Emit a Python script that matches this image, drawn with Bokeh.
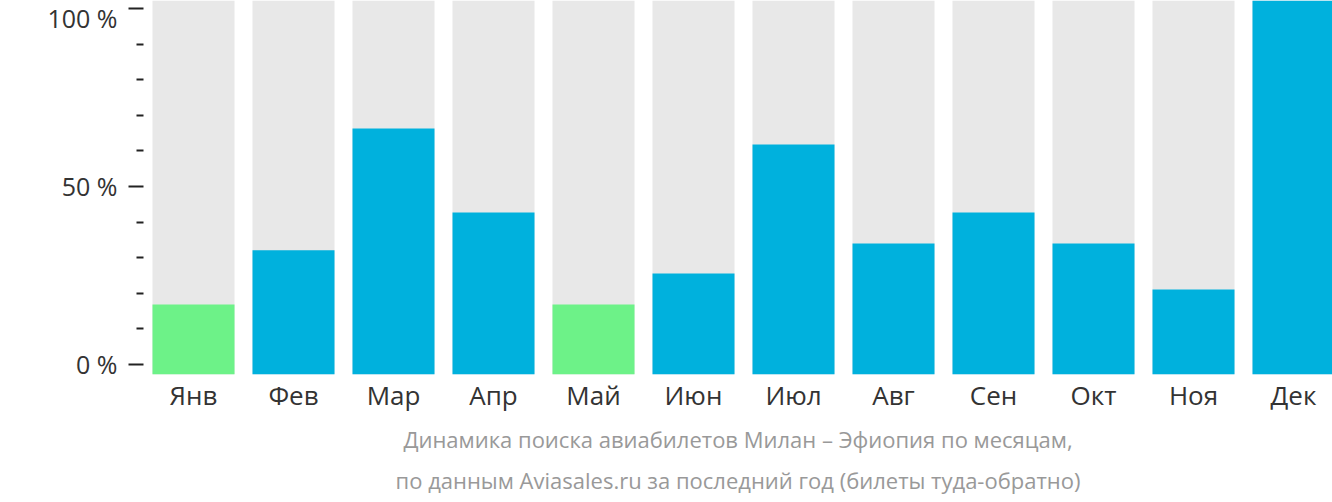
from bokeh.plotting import figure
from bokeh.models import (Range1d, LinearAxis, FixedTicker, CustomJSTickFormatter,
                          ColumnDataSource, Title)
from bokeh.embed import file_html
from bokeh.resources import INLINE

months = ["Янв", "Фев", "Мар", "Апр", "Май", "Июн", "Июл", "Авг", "Сен", "Окт", "Ноя", "Дек"]
values = [18.7, 33.2, 65.8, 43.3, 18.7, 27.0, 61.5, 35.0, 43.3, 35.0, 22.7, 100.0]
axis_ticks = [0, 50, 100]
axis_minor = [10, 20, 30, 40, 60, 70, 80, 90]
title_lines = ["Динамика поиска авиабилетов Милан – Эфиопия по месяцам,",
               "по данным Aviasales.ru за последний год (билеты туда-обратно)"]

BLUE = "#00B1DD"
GREEN = "#6DF288"
GREY = "#E8E8E8"
FONT = "Open Sans"

xs = list(range(len(months)))
vmin = min(values)
colors = [GREEN if v == vmin else BLUE for v in values]
src = ColumnDataSource(dict(x=xs, v=values, full=[100] * len(values), c=colors))

p = figure(width=1332, height=502, output_backend="svg", toolbar_location=None,
           x_range=Range1d(-0.5, 11.39), y_range=Range1d(0, 100),
           x_axis_location=None, y_axis_location=None,
           min_border_left=143, min_border_right=0, min_border_top=0, min_border_bottom=128)
p.outline_line_color = None
p.xgrid.visible = False
p.ygrid.visible = False
p.background_fill_color = "white"
p.border_fill_color = "white"

p.vbar(x="x", top="full", bottom=0, width=0.82, source=src, fill_color=GREY, line_color=None)
p.vbar(x="x", top="v", bottom=0, width=0.82, source=src, fill_color="c", line_color=None)

p.extra_y_ranges = {"ax": Range1d(-2.809, 102.247)}
yax = LinearAxis(y_range_name="ax",
                 ticker=FixedTicker(ticks=axis_ticks, minor_ticks=axis_minor),
                 formatter=CustomJSTickFormatter(code="return tick + ' %';"))
yax.axis_line_color = None
yax.major_tick_out = 15
yax.major_tick_in = 0
yax.minor_tick_out = 7
yax.minor_tick_in = 0
yax.major_tick_line_width = 2
yax.minor_tick_line_width = 2
yax.major_tick_line_color = "#222222"
yax.minor_tick_line_color = "#222222"
yax.major_label_standoff = 11
yax.major_label_text_font = FONT
yax.major_label_text_font_size = "25px"
yax.major_label_text_color = "#333333"
p.add_layout(yax, "left")

xax = LinearAxis(ticker=FixedTicker(ticks=xs),
                 major_label_overrides={i: m for i, m in zip(xs, months)})
xax.axis_line_color = None
xax.major_tick_line_color = None
xax.minor_tick_line_color = None
xax.major_tick_out = 0
xax.major_tick_in = 0
xax.major_label_standoff = 2
xax.major_label_text_font = FONT
xax.major_label_text_font_size = "26px"
xax.major_label_text_color = "#333333"
p.add_layout(xax, "below")

for line, so in zip(title_lines, [12, 6]):
    t = Title(text=line, align="center", text_font=FONT, text_font_size="22px",
              text_font_style="normal", text_color="#999999", standoff=so, offset=9)
    p.add_layout(t, "below")

open("out.html", "w").write(file_html(p, INLINE))
